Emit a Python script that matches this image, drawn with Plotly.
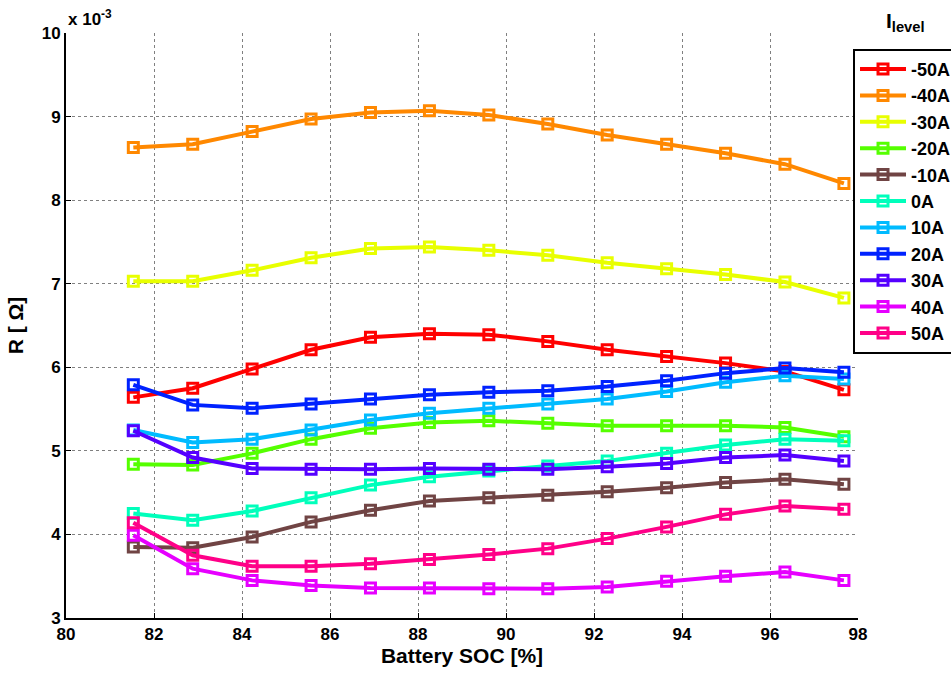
import plotly.graph_objects as go

soc = [81.53, 82.88, 84.23, 85.57, 86.92, 88.26, 89.61, 90.95, 92.30, 93.65, 94.99, 96.34, 97.68]

# resistance values in units of 1e-3 Ohm
r_m50 = [5.64, 5.75, 5.98, 6.21, 6.36, 6.40, 6.39, 6.31, 6.21, 6.13, 6.05, 5.95, 5.73]
r_m40 = [8.63, 8.67, 8.82, 8.97, 9.05, 9.07, 9.02, 8.91, 8.78, 8.67, 8.56, 8.43, 8.20]
r_m30 = [7.03, 7.03, 7.16, 7.31, 7.42, 7.44, 7.40, 7.34, 7.25, 7.18, 7.11, 7.02, 6.83]
r_m20 = [4.84, 4.83, 4.97, 5.14, 5.27, 5.34, 5.36, 5.33, 5.30, 5.30, 5.30, 5.28, 5.17]
r_m10 = [3.85, 3.84, 3.97, 4.15, 4.29, 4.40, 4.44, 4.47, 4.51, 4.56, 4.62, 4.66, 4.60]
r_0 = [4.25, 4.17, 4.28, 4.44, 4.59, 4.69, 4.76, 4.82, 4.88, 4.97, 5.07, 5.14, 5.12]
r_10 = [5.25, 5.10, 5.14, 5.25, 5.37, 5.45, 5.51, 5.56, 5.62, 5.71, 5.82, 5.90, 5.86]
r_20 = [5.79, 5.55, 5.51, 5.56, 5.62, 5.67, 5.70, 5.72, 5.77, 5.84, 5.93, 5.99, 5.94]
r_30 = [5.24, 4.92, 4.79, 4.78, 4.78, 4.79, 4.78, 4.78, 4.81, 4.85, 4.92, 4.95, 4.88]
r_40 = [3.99, 3.59, 3.45, 3.39, 3.36, 3.36, 3.35, 3.35, 3.37, 3.44, 3.50, 3.55, 3.45]
r_50 = [4.14, 3.75, 3.62, 3.62, 3.65, 3.70, 3.76, 3.83, 3.95, 4.09, 4.24, 4.34, 4.30]

labels = ["-50A", "-40A", "-30A", "-20A", "-10A", "0A", "10A", "20A", "30A", "40A", "50A"]
series = [r_m50, r_m40, r_m30, r_m20, r_m10, r_0, r_10, r_20, r_30, r_40, r_50]
colors = ["#FF0000", "#FF8800", "#E8FF00", "#55FF00", "#704444", "#00FFBB",
          "#00BBFF", "#0022FF", "#5500FF", "#E600FF", "#FF0088"]

x_ticks = [80, 82, 84, 86, 88, 90, 92, 94, 96, 98]
y_ticks = [3, 4, 5, 6, 7, 8, 9, 10]

FONT = "Arial, Liberation Sans, sans-serif"

fig = go.Figure()
for lab, vals, col in zip(labels, series, colors):
    fig.add_trace(go.Scatter(
        x=soc, y=vals, name=lab, mode="lines+markers",
        line=dict(color=col, width=4),
        marker=dict(symbol="square-open", size=10, color=col, line=dict(width=3, color=col)),
    ))

grid = dict(showgrid=True, gridcolor="#808080", griddash="dot", gridwidth=1)

fig.update_layout(
    width=951, height=677,
    margin=dict(l=66, r=93, t=33, b=59, autoexpand=False),
    paper_bgcolor="white", plot_bgcolor="white",
    font=dict(family=FONT, color="black", size=16),
    showlegend=True,
    legend=dict(
        x=0.9937, xanchor="left", y=0.973, yanchor="top",
        bordercolor="black", borderwidth=2, bgcolor="white",
        font=dict(family=FONT, size=18, color="black", weight="bold"),
        tracegroupgap=0, itemwidth=46,
    ),
    xaxis=dict(
        range=[80, 98], tickvals=x_ticks, ticktext=[str(v) for v in x_ticks],
        showline=True, linecolor="black", linewidth=2,
        ticks="inside", ticklen=5, tickcolor="black",
        tickfont=dict(family=FONT, size=17, weight="bold"),
        title=dict(text="Battery SOC [%]", font=dict(family=FONT, size=21, weight="bold"), standoff=4),
        zeroline=False, **grid,
    ),
    yaxis=dict(
        range=[3, 10], tickvals=y_ticks, ticktext=[str(v) for v in y_ticks],
        showline=True, linecolor="black", linewidth=2,
        ticks="inside", ticklen=5, tickcolor="black",
        tickfont=dict(family=FONT, size=17, weight="bold"),
        title=dict(text="R [ Ω]", font=dict(family=FONT, size=21, weight="bold"), standoff=12),
        zeroline=False, **grid,
    ),
    xaxis2=dict(
        overlaying="x", side="top", matches="x", range=[80, 98], tickvals=x_ticks,
        showticklabels=False, ticks="inside", ticklen=5, tickcolor="black",
        showgrid=False, showline=False, zeroline=False,
    ),
    yaxis2=dict(
        overlaying="y", side="right", matches="y", range=[3, 10], tickvals=y_ticks,
        showticklabels=False, ticks="inside", ticklen=5, tickcolor="black",
        showgrid=False, showline=False, zeroline=False,
    ),
    annotations=[
        dict(text="x 10<sup>-3</sup>", xref="paper", yref="paper", x=0.0, y=1.0,
             xanchor="left", yanchor="bottom", showarrow=False, yshift=2,
             font=dict(family=FONT, size=17, weight="bold")),
        dict(text="I<sub>level</sub>", xref="paper", yref="paper", x=1.033, y=1.0,
             xanchor="left", yanchor="bottom", showarrow=False, yshift=-4,
             font=dict(family=FONT, size=21, weight="bold")),
    ],
)

fig.write_html("out.html")
